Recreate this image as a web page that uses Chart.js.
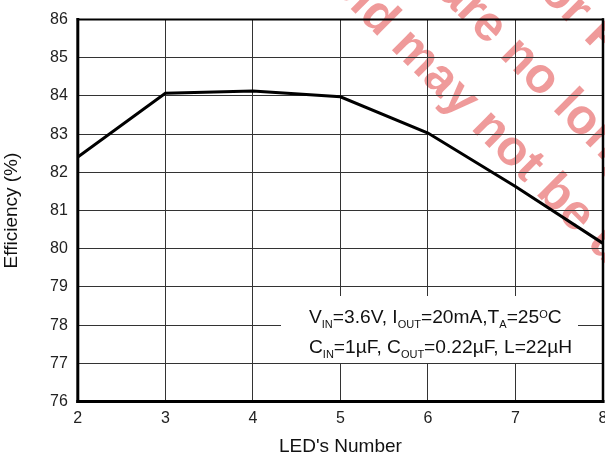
<!DOCTYPE html>
<html>
<head>
<meta charset="utf-8">
<script src="https://cdn.jsdelivr.net/npm/chart.js@4/dist/chart.umd.min.js"></script>
<style>
  html, body { margin: 0; padding: 0; background: #fff; overflow: hidden; }
  #wrap { width: 605px; height: 458px; overflow: hidden; position: relative; }
  canvas { display: block; }
</style>
</head>
<body>
<div id="wrap"><canvas id="c" width="625" height="458"></canvas></div>
<script>
// ---- data ----
const ledCount = [2, 3, 4, 5, 6, 7, 8];
const efficiency = [82.4, 84.07, 84.13, 83.98, 83.03, 81.63, 80.14];
const xTitle = "LED's Number";
const yTitle = "Efficiency (%)";
const noteLine1 = [["V", "main"], ["IN", "sub"], ["=3.6V, I", "main"], ["OUT", "sub"], ["=20mA,T", "main"], ["A", "sub"], ["=25", "main"], ["O", "sup"], ["C", "main"]];
const noteLine2 = [["C", "main"], ["IN", "sub"], ["=1\u00b5F, C", "main"], ["OUT", "sub"], ["=0.22\u00b5F, L=22\u00b5H", "main"]];
const watermarkLines = [
  { text: "old may not be used", anchor: 2, at: [378, 18] },
  { text: "are no longer", anchor: 2, at: [488, 27] },
  { text: "for Production", anchor: 2, at: [575, 12] }
];

const FONT = "'Liberation Sans', Arial, Helvetica, sans-serif";

const watermarkPlugin = {
  id: 'wm',
  beforeDraw(chart) {
    const ctx = chart.ctx;
    ctx.save();
    ctx.font = "bold 50px " + FONT;
    ctx.fillStyle = "rgba(222,40,40,0.47)";
    ctx.textBaseline = "alphabetic";
    ctx.textAlign = "left";
    for (const l of watermarkLines) {
      ctx.save();
      ctx.translate(l.at[0], l.at[1]);
      ctx.rotate(Math.PI / 4);
      const pre = ctx.measureText(l.text.slice(0, l.anchor)).width;
      const cw = ctx.measureText(l.text[l.anchor]).width;
      ctx.fillText(l.text, -pre - cw / 2, 0.26 * 50);
      ctx.restore();
    }
    ctx.restore();
  }
};

function drawRich(ctx, parts, x, y) {
  for (const [t, kind] of parts) {
    let size = 19.2, dy = 0;
    if (kind === "sub") { size = 11; dy = 5; }
    if (kind === "sup") { size = 11; dy = -5; }
    ctx.font = size + "px " + FONT;
    ctx.fillText(t, x, y + dy);
    x += ctx.measureText(t).width;
  }
}

const notePlugin = {
  id: 'note',
  afterDatasetsDraw(chart) {
    const ctx = chart.ctx;
    ctx.save();
    ctx.fillStyle = "#fff";
    ctx.fillRect(281, 296, 297, 67);
    ctx.fillStyle = "#111";
    ctx.textBaseline = "alphabetic";
    ctx.textAlign = "left";
    drawRich(ctx, noteLine1, 309, 323);
    drawRich(ctx, noteLine2, 309, 353);
    ctx.restore();
  }
};

const framePlugin = {
  id: 'frame',
  afterDraw(chart) {
    const { left, right, top, bottom } = chart.chartArea;
    const ctx = chart.ctx;
    ctx.save();
    ctx.strokeStyle = "#000";
    ctx.lineCap = "square";
    ctx.lineWidth = 2;
    ctx.beginPath(); ctx.moveTo(left, top); ctx.lineTo(right, top); ctx.stroke();
    ctx.lineWidth = 2.5;
    ctx.beginPath(); ctx.moveTo(right, top); ctx.lineTo(right, bottom); ctx.stroke();
    ctx.lineWidth = 3;
    ctx.beginPath(); ctx.moveTo(left, top); ctx.lineTo(left, bottom); ctx.stroke();
    ctx.beginPath(); ctx.moveTo(left, bottom); ctx.lineTo(right, bottom); ctx.stroke();
    ctx.restore();
  }
};

new Chart(document.getElementById('c'), {
  type: 'line',
  data: {
    datasets: [{
      data: ledCount.map((x, i) => ({ x: x, y: efficiency[i] })),
      borderColor: '#000',
      borderWidth: 3,
      pointRadius: 0,
      tension: 0,
      fill: false
    }]
  },
  options: {
    responsive: false,
    animation: false,
    devicePixelRatio: 1,
    layout: { padding: { left: 0, top: 15, right: 22, bottom: 0 } },
    plugins: { legend: { display: false }, tooltip: { enabled: false } },
    scales: {
      x: {
        type: 'linear', min: 2, max: 8,
        afterFit(s) { s.height = 56.5; },
        ticks: { stepSize: 1, padding: 7, color: '#222', font: { family: FONT, size: 16 } },
        grid: { color: '#333', lineWidth: 1, drawTicks: false },
        border: { display: false },
        title: { display: true, text: xTitle, color: '#111', font: { family: FONT, size: 19 }, padding: { top: 0, bottom: 0 } }
      },
      y: {
        min: 76, max: 86,
        afterFit(s) { s.width = 77.8; },
        ticks: { stepSize: 1, padding: 10, color: '#222', font: { family: FONT, size: 16 } },
        grid: { color: '#333', lineWidth: 1, drawTicks: false },
        border: { display: false },
        title: { display: true, text: yTitle, color: '#111', font: { family: FONT, size: 19 }, padding: { top: 0, bottom: 0 } }
      }
    }
  },
  plugins: [watermarkPlugin, notePlugin, framePlugin]
});
</script>
</body>
</html>
